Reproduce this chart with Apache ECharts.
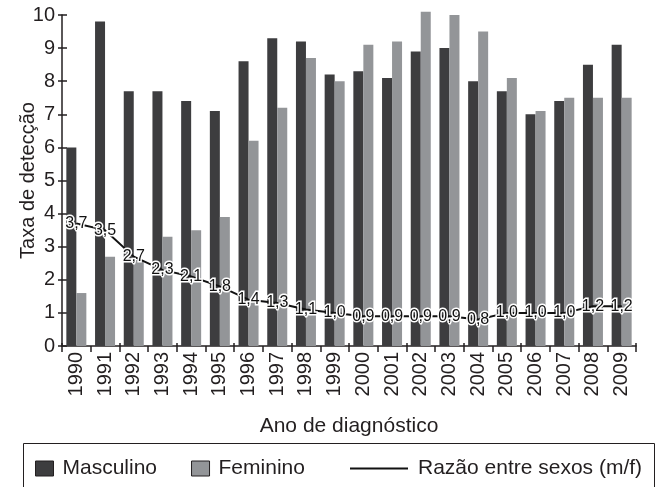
<!DOCTYPE html>
<html>
<head>
<meta charset="utf-8">
<script src="https://cdn.jsdelivr.net/npm/echarts@6/dist/echarts.min.js"></script>
<style>
  html, body { margin: 0; padding: 0; background: #fff; }
  #chart { width: 660px; height: 487px; }
</style>
</head>
<body>
<div id="chart"></div>
<script>
var anos = ['1990', '1991', '1992', '1993', '1994', '1995', '1996', '1997', '1998', '1999',
            '2000', '2001', '2002', '2003', '2004', '2005', '2006', '2007', '2008', '2009'];
var masculino = [6.0, 9.8, 7.7, 7.7, 7.4, 7.1, 8.6, 9.3, 9.2, 8.2,
                 8.3, 8.1, 8.9, 9.0, 8.0, 7.7, 7.0, 7.4, 8.5, 9.1];
var feminino = [1.6, 2.7, 2.6, 3.3, 3.5, 3.9, 6.2, 7.2, 8.7, 8.0,
                9.1, 9.2, 10.1, 10.0, 9.5, 8.1, 7.1, 7.5, 7.5, 7.5];
var razao = [3.7, 3.5, 2.7, 2.3, 2.1, 1.8, 1.4, 1.3, 1.1, 1.0,
             0.9, 0.9, 0.9, 0.9, 0.8, 1.0, 1.0, 1.0, 1.2, 1.2];

var fonte = 'Liberation Sans, Arial, sans-serif';
var corTexto = '#231f20';
var chart = echarts.init(document.getElementById('chart'));

var option = {
    animation: false,
    backgroundColor: '#fff',
    textStyle: { fontFamily: fonte, color: corTexto },
    grid: { left: 62, right: 24, top: 15, bottom: 141 },
    legend: [{
        data: ['Masculino', 'Feminino'],
        left: 35, top: 458, padding: 0,
        itemWidth: 18, itemHeight: 15, itemGap: 34,
        icon: 'rect',
        itemStyle: { borderColor: corTexto, borderWidth: 1 },
        textStyle: { fontSize: 21, color: corTexto, fontFamily: fonte, padding: [0, 0, 0, 4] }
    }, {
        data: [{ name: 'Razão entre sexos (m/f)', icon: 'path://M0,0H58V2H0Z' }],
        left: 350, top: 458, padding: 0,
        itemWidth: 58, itemHeight: 15,
        textStyle: { fontSize: 21, color: corTexto, fontFamily: fonte, padding: [0, 0, 0, 5] }
    }],
    graphic: [{
        type: 'rect',
        shape: { x: 23.5, y: 443.5, width: 631, height: 60 },
        style: { fill: 'none', stroke: corTexto, lineWidth: 1 },
        silent: true
    }],
    xAxis: [{
        type: 'category',
        data: anos,
        name: 'Ano de diagnóstico',
        nameLocation: 'middle',
        nameGap: 70,
        nameTextStyle: { fontSize: 21, color: corTexto, fontFamily: fonte },
        axisLine: { lineStyle: { color: corTexto, width: 1.5 } },
        axisTick: { show: true, length: 6, lineStyle: { color: corTexto, width: 1.5 } },
        axisLabel: { rotate: 90, fontSize: 20, color: corTexto, margin: 6, fontFamily: fonte }
    }, {
        type: 'category',
        data: anos,
        position: 'bottom',
        axisLine: { show: false },
        axisTick: { show: true, inside: true, length: 3, lineStyle: { color: corTexto, width: 1.5 } },
        axisLabel: { show: false }
    }],
    yAxis: [{
        type: 'value',
        min: 0, max: 10, interval: 1,
        name: 'Taxa de detecção',
        nameLocation: 'middle',
        nameGap: 24,
        nameMoveOverlap: false,
        nameTextStyle: { fontSize: 20, color: corTexto, fontFamily: fonte },
        axisLine: { show: true, lineStyle: { color: corTexto, width: 1.5 } },
        axisTick: { show: true, length: 4, lineStyle: { color: corTexto, width: 1.5 } },
        splitLine: { show: false },
        axisLabel: { fontSize: 20, color: corTexto, margin: 7, fontFamily: fonte }
    }, {
        type: 'value',
        min: 0, max: 10, interval: 1,
        position: 'left',
        axisLine: { show: false },
        axisTick: { show: true, inside: true, length: 5, lineStyle: { color: corTexto, width: 1.5 } },
        splitLine: { show: false },
        axisLabel: { show: false }
    }],
    series: [{
        name: 'Masculino',
        type: 'bar',
        data: masculino,
        barWidth: 10,
        barGap: '0%',
        clip: false,
        itemStyle: { color: '#3d3d3f' },
        z: 2
    }, {
        name: 'Feminino',
        type: 'bar',
        data: feminino,
        barWidth: 10,
        barGap: '0%',
        clip: false,
        itemStyle: { color: '#939598' },
        z: 2
    }, {
        name: 'Razão entre sexos (m/f)',
        type: 'line',
        data: razao,
        symbol: 'circle',
        symbolSize: 1,
        showSymbol: true,
        lineStyle: { color: '#111', width: 2 },
        itemStyle: { color: '#111' },
        z: 5,
        label: {
            show: true,
            position: 'inside',
            fontSize: 16,
            fontFamily: fonte,
            color: '#111',
            textBorderColor: '#fff',
            textBorderWidth: 3,
            formatter: function (p) { return p.value.toFixed(1).replace('.', ','); }
        }
    }]
};

chart.setOption(option);
</script>
</body>
</html>
